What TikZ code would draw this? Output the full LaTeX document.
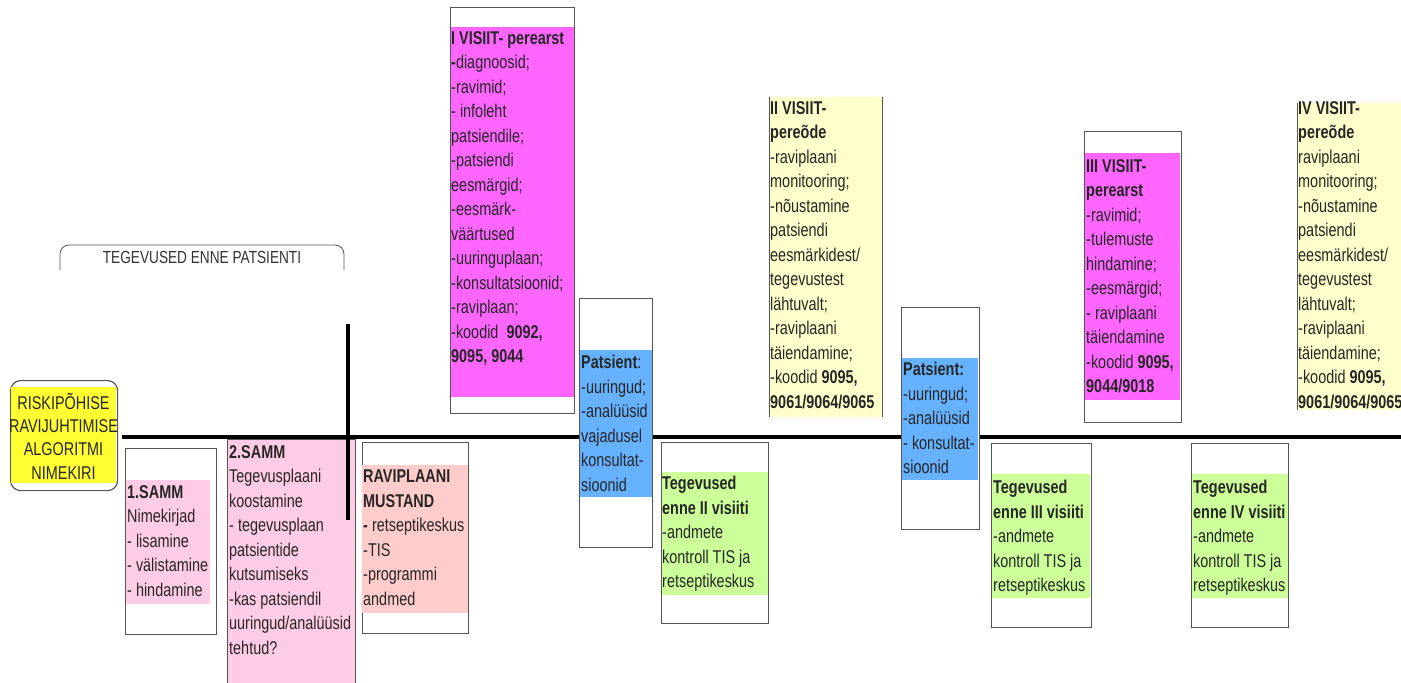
\documentclass[tikz,border=0pt]{standalone}
\usepackage{fontspec}
\setmainfont{Liberation Sans}[FakeStretch=0.78]
\usepackage{tikz}
\usetikzlibrary{positioning}

\definecolor{pinkS}{HTML}{FFCCE6}
\definecolor{salmonM}{HTML}{FFCCCC}
\definecolor{magentaV}{HTML}{FF66FF}
\definecolor{blueP}{HTML}{66B2FF}
\definecolor{greenT}{HTML}{CCFF99}
\definecolor{yellowL}{HTML}{FFFFCC}
\definecolor{yellowB}{HTML}{FFFF33}
\definecolor{frameG}{HTML}{555555}

\begin{document}
\begin{tikzpicture}[x=1pt, y=-1pt,
	frame/.style={draw=frameG, line width=1.2pt, fill=white, anchor=north west, inner sep=0pt},
	tint/.style={fill=#1, draw=none, anchor=north west, inner sep=0pt},
	txt/.style={anchor=north west, inner sep=0pt, align=left, text=black!85,
		font=\fontsize{18.5}{24.5}\selectfont},
	axis/.style={line width=4.5pt, black}]
	\useasboundingbox (0,0) rectangle (1401,683);

	\coordinate (axisL) at (122,437);
	\coordinate (axisR) at (1410,437);
	\draw[axis] (axisL) -- (axisR);

	\coordinate (brL) at (60,270);
	\coordinate (brR) at (344,270);
	\draw[frameG, line width=0.8pt, rounded corners=9pt] (brL) -- ++(0,-25) -- ++(284,0) -- (brR);
	\node[font=\fontsize{17.5}{20}\selectfont, text=black!80] (brlabel) at (202,257) {TEGEVUSED ENNE PATSIENTI};

	\node[frame, rounded corners=10pt, minimum width=107, minimum height=110] (riskframe) at (10,380) {};
	\node[tint=yellowB, minimum width=105, minimum height=96] (riskbg) at (11,387) {};
	\node[align=center, inner sep=0pt, text=black!85, font=\fontsize{18.5}{23.4}\selectfont] (risktxt) at (63.5,436)
		{RISKIPÕHISE\\RAVIJUHTIMISE\\ALGORITMI\\NIMEKIRI};

	\node[frame, minimum width=91, minimum height=186] (samm1) at (125,448) {};
	\node[tint=pinkS, minimum width=84, minimum height=124] (samm1bg) at (126,480) {};
	\node[txt] (samm1txt) at (127,485)
		{\textbf{1.SAMM}\\Nimekirjad\\- lisamine\\- välistamine\\- hindamine};

	\node[frame, minimum width=128, minimum height=260] (samm2) at (227,439) {};
	\node[tint=pinkS, minimum width=127, minimum height=250] (samm2bg) at (228,440) {};
	\node[txt] (samm2txt) at (229,445)
		{\textbf{2.SAMM}\\Tegevusplaani\\koostamine\\- tegevusplaan\\patsientide\\kutsumiseks\\-kas patsiendil\\uuringud/analüüsid\\tehtud?};

	\node[frame, minimum width=106, minimum height=191] (mustand) at (362,442) {};
	\node[tint=salmonM, minimum width=106, minimum height=148] (mustandbg) at (362,465) {};
	\node[txt] (mustandtxt) at (363,470)
		{\textbf{RAVIPLAANI}\\\textbf{MUSTAND}\\\textbf{-} retseptikeskus\\-TIS\\-programmi\\andmed};

	\node[frame, minimum width=124, minimum height=406] (visit1) at (450,7) {};
	\node[tint=magentaV, minimum width=123, minimum height=370] (visit1bg) at (451,27) {};
	\node[txt] (visit1txt) at (451,31)
		{\textbf{I VISIIT- perearst}\\\textbf{-}diagnoosid;\\-ravimid;\\- infoleht\\patsiendile;\\-patsiendi\\eesmärgid;\\-eesmärk-\\väärtused\\-uuringuplaan;\\-konsultatsioonid;\\-raviplaan;\\-koodid \ \textbf{9092,}\\\textbf{9095, 9044}};

	\node[frame, minimum width=73, minimum height=249] (patsient1) at (579,298) {};
	\node[tint=blueP, minimum width=72, minimum height=147] (patsient1bg) at (580,350) {};
	\node[txt] (patsient1txt) at (581,355)
		{\textbf{Patsient}:\\-uuringud;\\-analüüsid\\vajadusel\\konsultat-\\sioonid};

	\node[frame, minimum width=107, minimum height=181] (enne2) at (661,442) {};
	\node[tint=greenT, minimum width=106, minimum height=123] (enne2bg) at (662,472) {};
	\node[txt] (enne2txt) at (662,476)
		{\textbf{Tegevused}\\\textbf{enne II visiiti}\\-andmete\\kontroll TIS ja\\retseptikeskus};

	\node[tint=yellowL, minimum width=113, minimum height=320] (visit2bg) at (769,97) {};
	\draw[frameG, line width=0.8pt] (visit2bg.north west) -- (visit2bg.south west);
	\draw[frameG, line width=0.8pt] (visit2bg.north east) -- (visit2bg.south east);
	\node[txt] (visit2txt) at (770,101)
		{\textbf{II VISIIT-}\\\textbf{pereõde}\\-raviplaani\\monitooring;\\-nõustamine\\patsiendi\\eesmärkidest/\\tegevustest\\lähtuvalt;\\-raviplaani\\täiendamine;\\-koodid \textbf{9095,}\\\textbf{9061/9064/9065}};

	\node[frame, minimum width=78, minimum height=222] (patsient2) at (901,307) {};
	\node[tint=blueP, minimum width=76, minimum height=122] (patsient2bg) at (902,358) {};
	\node[txt] (patsient2txt) at (903,362)
		{\textbf{Patsient:}\\-uuringud;\\-analüüsid\\- konsultat-\\sioonid};

	\node[frame, minimum width=100, minimum height=184] (enne3) at (991,443) {};
	\node[tint=greenT, minimum width=98, minimum height=124] (enne3bg) at (992,474) {};
	\node[txt] (enne3txt) at (993,480)
		{\textbf{Tegevused}\\\textbf{enne III visiiti}\\-andmete\\kontroll TIS ja\\retseptikeskus};

	\node[frame, minimum width=97, minimum height=291] (visit3) at (1084,131) {};
	\node[tint=magentaV, minimum width=95, minimum height=247] (visit3bg) at (1085,153) {};
	\node[txt] (visit3txt) at (1086,159)
		{\textbf{III VISIIT-}\\\textbf{perearst}\\-ravimid;\\-tulemuste\\hindamine;\\-eesmärgid;\\- raviplaani\\täiendamine\\-koodid \textbf{9095,}\\\textbf{9044/9018}};

	\node[frame, minimum width=97, minimum height=184] (enne4) at (1191,443) {};
	\node[tint=greenT, minimum width=96, minimum height=124] (enne4bg) at (1192,474) {};
	\node[txt] (enne4txt) at (1193,480)
		{\textbf{Tegevused}\\\textbf{enne IV visiiti}\\-andmete\\kontroll TIS ja\\retseptikeskus};

	\node[tint=yellowL, minimum width=110, minimum height=307] (visit4bg) at (1297,103) {};
	\draw[frameG, line width=0.8pt] (visit4bg.north west) -- (visit4bg.south west);
	\node[txt] (visit4txt) at (1298,101)
		{\textbf{IV VISIIT-}\\\textbf{pereõde}\\raviplaani\\monitooring;\\-nõustamine\\patsiendi\\eesmärkidest/\\tegevustest\\lähtuvalt;\\-raviplaani\\täiendamine;\\-koodid \textbf{9095,}\\\textbf{9061/9064/9065}};

	\coordinate (tickT) at (348,324);
	\coordinate (tickB) at (348,520);
	\draw[line width=3.5pt] (tickT) -- (tickB);
\end{tikzpicture}
\end{document}
